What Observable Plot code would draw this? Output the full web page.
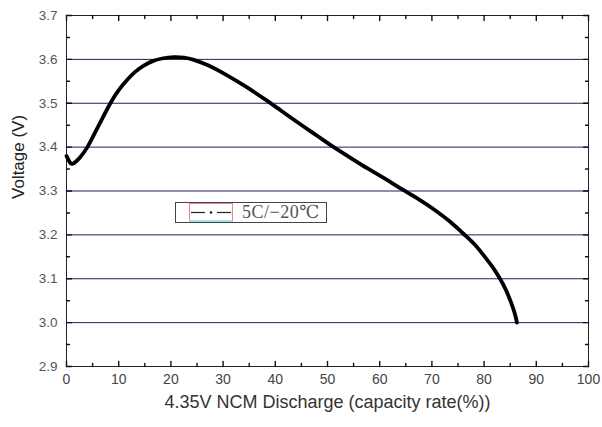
<!DOCTYPE html>
<html>
<head>
<meta charset="utf-8">
<script src="https://cdn.jsdelivr.net/npm/d3@7"></script>
<script src="https://cdn.jsdelivr.net/npm/@observablehq/plot@0.6"></script>
<style>
  body { margin: 0; background: #fff; }
  #wrap { position: relative; width: 602px; height: 427px; }
  #legend {
    position: absolute; left: 175px; top: 202px; width: 152px; height: 21px;
    border: 1px solid #444; background: #fff; box-sizing: border-box;
    font-family: "Liberation Serif", "DejaVu Serif", serif; font-size: 18px; color: #555;
    display: flex; align-items: center;
  }
  #legend svg { margin-left: 13px; }
  #legend span { margin-left: 9px; line-height: 19px; letter-spacing: 0.5px; }
</style>
</head>
<body>
<div id="wrap"></div>
<script>
// capacity rate (%)
const capacity = [0, 0.8, 1.5, 2.5, 4.0, 5.2, 6.5, 8.4, 10.0, 11.6, 13.2, 14.8, 16.5, 18.3, 20.6, 22.5, 24.4, 27.0, 29.5, 32.0, 34.6, 38.4, 41.0, 44.8, 48.0, 51.2, 54.5, 57.6, 61.0, 64.0, 67.5, 70.4, 73.5, 76.1, 78.2, 80.0, 81.6, 83.0, 84.2, 85.1, 85.8, 86.3];
// voltage (V)
const voltage = [3.380, 3.363, 3.364, 3.375, 3.400, 3.427, 3.457, 3.500, 3.530, 3.553, 3.572, 3.586, 3.596, 3.602, 3.605, 3.604, 3.599, 3.587, 3.572, 3.555, 3.536, 3.506, 3.484, 3.452, 3.426, 3.400, 3.375, 3.352, 3.328, 3.306, 3.281, 3.258, 3.230, 3.202, 3.178, 3.152, 3.127, 3.101, 3.074, 3.048, 3.024, 3.000];
const seriesName = "5C/\u221220\u2103";
const xDomain = [0, 100];
const yDomain = [2.9, 3.7];
const xMajorTicks = [0, 10, 20, 30, 40, 50, 60, 70, 80, 90, 100];
const xMinorTicks = [5, 15, 25, 35, 45, 55, 65, 75, 85, 95];
const yMajorTicks = [2.9, 3.0, 3.1, 3.2, 3.3, 3.4, 3.5, 3.6, 3.7];
const yMinorTicks = [2.95, 3.05, 3.15, 3.25, 3.35, 3.45, 3.55, 3.65];
const gridValues = [3.0, 3.1, 3.2, 3.3, 3.4, 3.5, 3.6];
const xTitle = "4.35V NCM Discharge (capacity rate(%))";
const yTitle = "Voltage (V)";

const data = capacity.map((c, i) => ({c, v: voltage[i]}));
const font = "'Liberation Sans', Arial, sans-serif";

// inward tick shapes for the vector mark
const up = {draw(ctx, l) { ctx.moveTo(0, 0); ctx.lineTo(0, -l); }};
const down = {draw(ctx, l) { ctx.moveTo(0, 0); ctx.lineTo(0, l); }};
const right = {draw(ctx, l) { ctx.moveTo(0, 0); ctx.lineTo(l, 0); }};
const left = {draw(ctx, l) { ctx.moveTo(0, 0); ctx.lineTo(-l, 0); }};
const ts = {stroke: "#111", strokeWidth: 1.4, anchor: "start"};

const chart = Plot.plot({
  width: 602,
  height: 427,
  marginLeft: 66,
  marginRight: 14,
  marginTop: 15,
  marginBottom: 61,
  style: {fontFamily: font, background: "#fff"},
  x: {domain: xDomain},
  y: {domain: yDomain},
  marks: [
    Plot.ruleY(gridValues, {stroke: "#1f1f66", strokeWidth: 1}),
    // tick labels
    Plot.axisX(xMajorTicks, {tickSize: 0, tickPadding: 8, fontSize: 14, fill: "#444", label: null}),
    Plot.axisY(yMajorTicks, {tickSize: 0, tickPadding: 9, fontSize: 13.5, fill: "#555", label: null, tickFormat: d3.format(".1f")}),
    Plot.frame({stroke: "#222", strokeWidth: 1}),
    // inward ticks: bottom, top, left, right
    Plot.vector(xMajorTicks, {x: d => d, y: yDomain[0], length: 5, shape: up, ...ts}),
    Plot.vector(xMinorTicks, {x: d => d, y: yDomain[0], length: 3, shape: up, ...ts}),
    Plot.vector(xMajorTicks, {x: d => d, y: yDomain[1], length: 5, shape: down, ...ts}),
    Plot.vector(xMinorTicks, {x: d => d, y: yDomain[1], length: 3, shape: down, ...ts}),
    Plot.vector(yMajorTicks, {x: xDomain[0], y: d => d, length: 5, shape: right, ...ts}),
    Plot.vector(yMinorTicks, {x: xDomain[0], y: d => d, length: 3, shape: right, ...ts}),
    Plot.vector(yMajorTicks, {x: xDomain[1], y: d => d, length: 5, shape: left, ...ts}),
    Plot.vector(yMinorTicks, {x: xDomain[1], y: d => d, length: 3, shape: left, ...ts}),
    Plot.line(data, {x: "c", y: "v", stroke: "#000", strokeWidth: 3.8, curve: "natural", strokeLinecap: "round"}),
    Plot.text([xTitle], {frameAnchor: "bottom", dy: 41, fontSize: 18, fill: "#333", fontFamily: font}),
    Plot.text([yTitle], {frameAnchor: "left", dx: -48, dy: 8, rotate: -90, fontSize: 17, fill: "#222", fontFamily: font})
  ]
});

const wrap = document.getElementById("wrap");
wrap.appendChild(chart);

const legend = document.createElement("div");
legend.id = "legend";
legend.innerHTML = `<svg width="44" height="19" viewBox="0 0 44 19">
  <rect x="0.5" y="0.5" width="43" height="18" fill="#fff" stroke="#e08a8a"/>
  <line x1="0.5" y1="18" x2="43.5" y2="18" stroke="#9fe3ea" stroke-width="2"/>
  <line x1="2" y1="9.5" x2="16" y2="9.5" stroke="#222" stroke-width="1.2"/>
  <circle cx="22" cy="9.5" r="1.3" fill="#222"/>
  <line x1="28" y1="9.5" x2="42" y2="9.5" stroke="#222" stroke-width="1.2"/>
</svg><span>${seriesName}</span>`;
wrap.appendChild(legend);
</script>
</body>
</html>
